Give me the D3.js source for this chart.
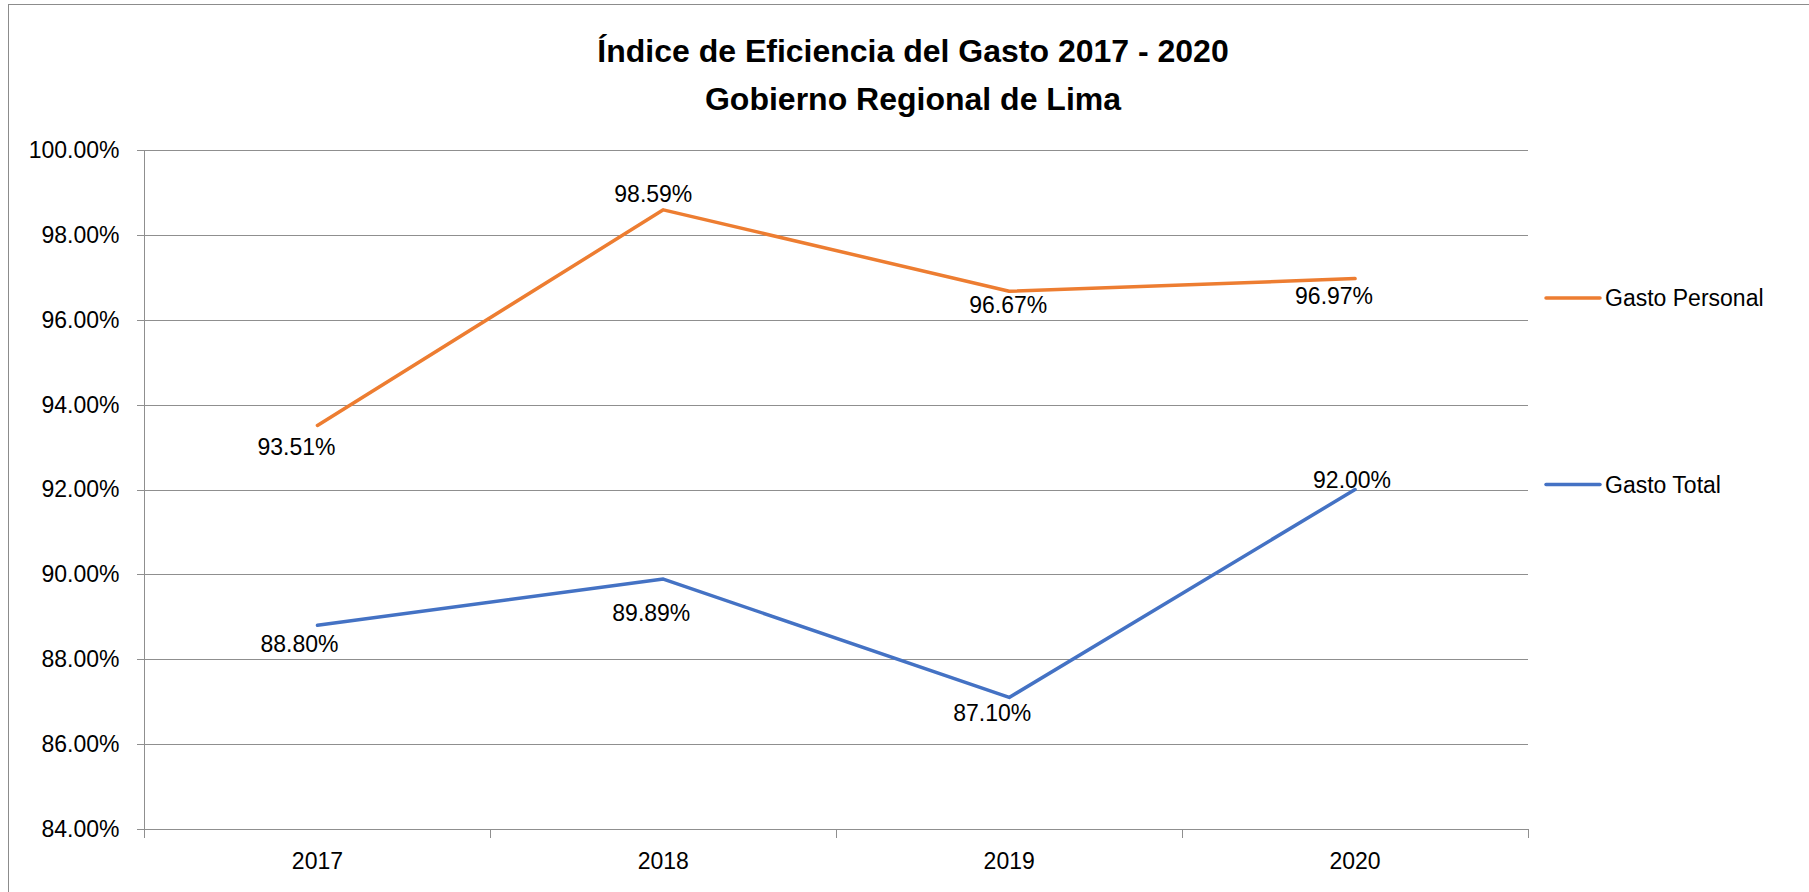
<!DOCTYPE html>
<html>
<head>
<meta charset="utf-8">
<script src="https://cdn.jsdelivr.net/npm/d3@7"></script>
<style>
  html, body { margin: 0; padding: 0; background: #fff; }
  svg { display: block; }
  text { font-family: "Liberation Sans", Arial, sans-serif; fill: #000; }
</style>
</head>
<body>
<svg id="chart" width="1809" height="892"></svg>
<script>
// ---- Data ----
const categories = ["2017", "2018", "2019", "2020"];
const seriesNames = ["Gasto Personal", "Gasto Total"];
const gastoPersonal = [0.9351, 0.9859, 0.9667, 0.9697];
const gastoTotal = [0.8880, 0.8989, 0.8710, 0.9200];
const yTicks = [0.84, 0.86, 0.88, 0.90, 0.92, 0.94, 0.96, 0.98, 1.00];
const titleLines = ["Índice de Eficiencia del Gasto 2017 - 2020", "Gobierno Regional de Lima"];

// ---- Layout / style ----
const W = 1809, H = 892;
const plot = { left: 144.5, right: 1528, top: 150, bottom: 829 };
const colors = ["#ED7D31", "#4472C4"];
const gridColor = "#8f8f8f";
// data-label offsets relative to the point (px), per series per point
const labelOffsets = [
  [[-21, 22], [-10, -16], [-1, 14], [-21, 17]],
  [[-18, 19], [-12, 34], [-17, 16], [-3, -10]]
];

const svg = d3.select("#chart");

// chart border
svg.append("rect")
  .attr("x", 8.5).attr("y", 4.5)
  .attr("width", W + 20).attr("height", H + 20)
  .attr("fill", "#fff").attr("stroke", "#8c8c8c").attr("stroke-width", 1);

// scales
const x = d3.scaleBand().domain(categories).range([plot.left, plot.right]).padding(0);
const y = d3.scaleLinear().domain([0.84, 1.00]).range([plot.bottom, plot.top]);
const fmt = d3.format(".2%");

// title
svg.append("g").selectAll("text").data(titleLines).join("text")
  .attr("x", 913)
  .attr("y", (d, i) => 62 + i * 48)
  .attr("text-anchor", "middle")
  .attr("font-weight", "bold")
  .attr("font-size", 32)
  .text(d => d);

// y axis (gridlines + outward ticks + labels)
const yAxis = d3.axisLeft(y)
  .tickValues(yTicks)
  .tickFormat(fmt)
  .tickSize(-(plot.right - plot.left))
  .tickPadding(25);
const gy = svg.append("g")
  .attr("transform", `translate(${plot.left},0)`)
  .call(yAxis);
gy.select(".domain").remove();
gy.selectAll(".tick line")
  .attr("x1", -8)
  .attr("stroke", gridColor).attr("stroke-width", 1)
  .attr("shape-rendering", "crispEdges");
gy.selectAll(".tick text")
  .attr("font-size", 23)
  .attr("fill", "#000")
  .style("font-family", "'Liberation Sans', Arial, sans-serif");

// vertical axis line
svg.append("line")
  .attr("x1", plot.left).attr("x2", plot.left)
  .attr("y1", plot.top).attr("y2", plot.bottom)
  .attr("stroke", gridColor).attr("stroke-width", 1)
  .attr("shape-rendering", "crispEdges");

// x axis
const xAxis = d3.axisBottom(x).tickSize(0).tickPadding(24);
const gx = svg.append("g")
  .attr("transform", `translate(0,${plot.bottom})`)
  .call(xAxis);
gx.select(".domain")
  .attr("stroke", gridColor).attr("shape-rendering", "crispEdges");
gx.selectAll(".tick text")
  .attr("font-size", 23)
  .attr("fill", "#000")
  .style("font-family", "'Liberation Sans', Arial, sans-serif");
// category boundary ticks
const boundaries = categories.map(c => x(c)).concat([x(categories[categories.length - 1]) + x.bandwidth()]);
svg.append("g").selectAll("line").data(boundaries).join("line")
  .attr("x1", d => d).attr("x2", d => d)
  .attr("y1", plot.bottom).attr("y2", plot.bottom + 9)
  .attr("stroke", gridColor).attr("stroke-width", 1)
  .attr("shape-rendering", "crispEdges");

// lines
const allSeries = [gastoPersonal, gastoTotal];
const line = d3.line()
  .x((d, i) => x(categories[i]) + x.bandwidth() / 2)
  .y(d => y(d));

allSeries.forEach((vals, s) => {
  svg.append("path")
    .datum(vals)
    .attr("fill", "none")
    .attr("stroke", colors[s])
    .attr("stroke-width", 3.5)
    .attr("stroke-linejoin", "round")
    .attr("stroke-linecap", "round")
    .attr("d", line);
});

// data labels
allSeries.forEach((vals, s) => {
  svg.append("g").selectAll("text").data(vals).join("text")
    .attr("x", (d, i) => x(categories[i]) + x.bandwidth() / 2 + labelOffsets[s][i][0])
    .attr("y", (d, i) => y(d) + labelOffsets[s][i][1])
    .attr("dy", "0.35em")
    .attr("text-anchor", "middle")
    .attr("font-size", 23)
    .text(d => fmt(d));
});

// legend
const legendY = [298, 484.5];
const legend = svg.append("g").selectAll("g").data(seriesNames).join("g")
  .attr("transform", (d, i) => `translate(0,${legendY[i]})`);
legend.append("line")
  .attr("x1", 1546).attr("x2", 1600)
  .attr("y1", 0).attr("y2", 0)
  .attr("stroke", (d, i) => colors[i])
  .attr("stroke-width", 3.5)
  .attr("stroke-linecap", "round");
legend.append("text")
  .attr("x", 1605).attr("y", 0).attr("dy", "0.35em")
  .attr("font-size", 23)
  .text(d => d);
</script>
</body>
</html>
